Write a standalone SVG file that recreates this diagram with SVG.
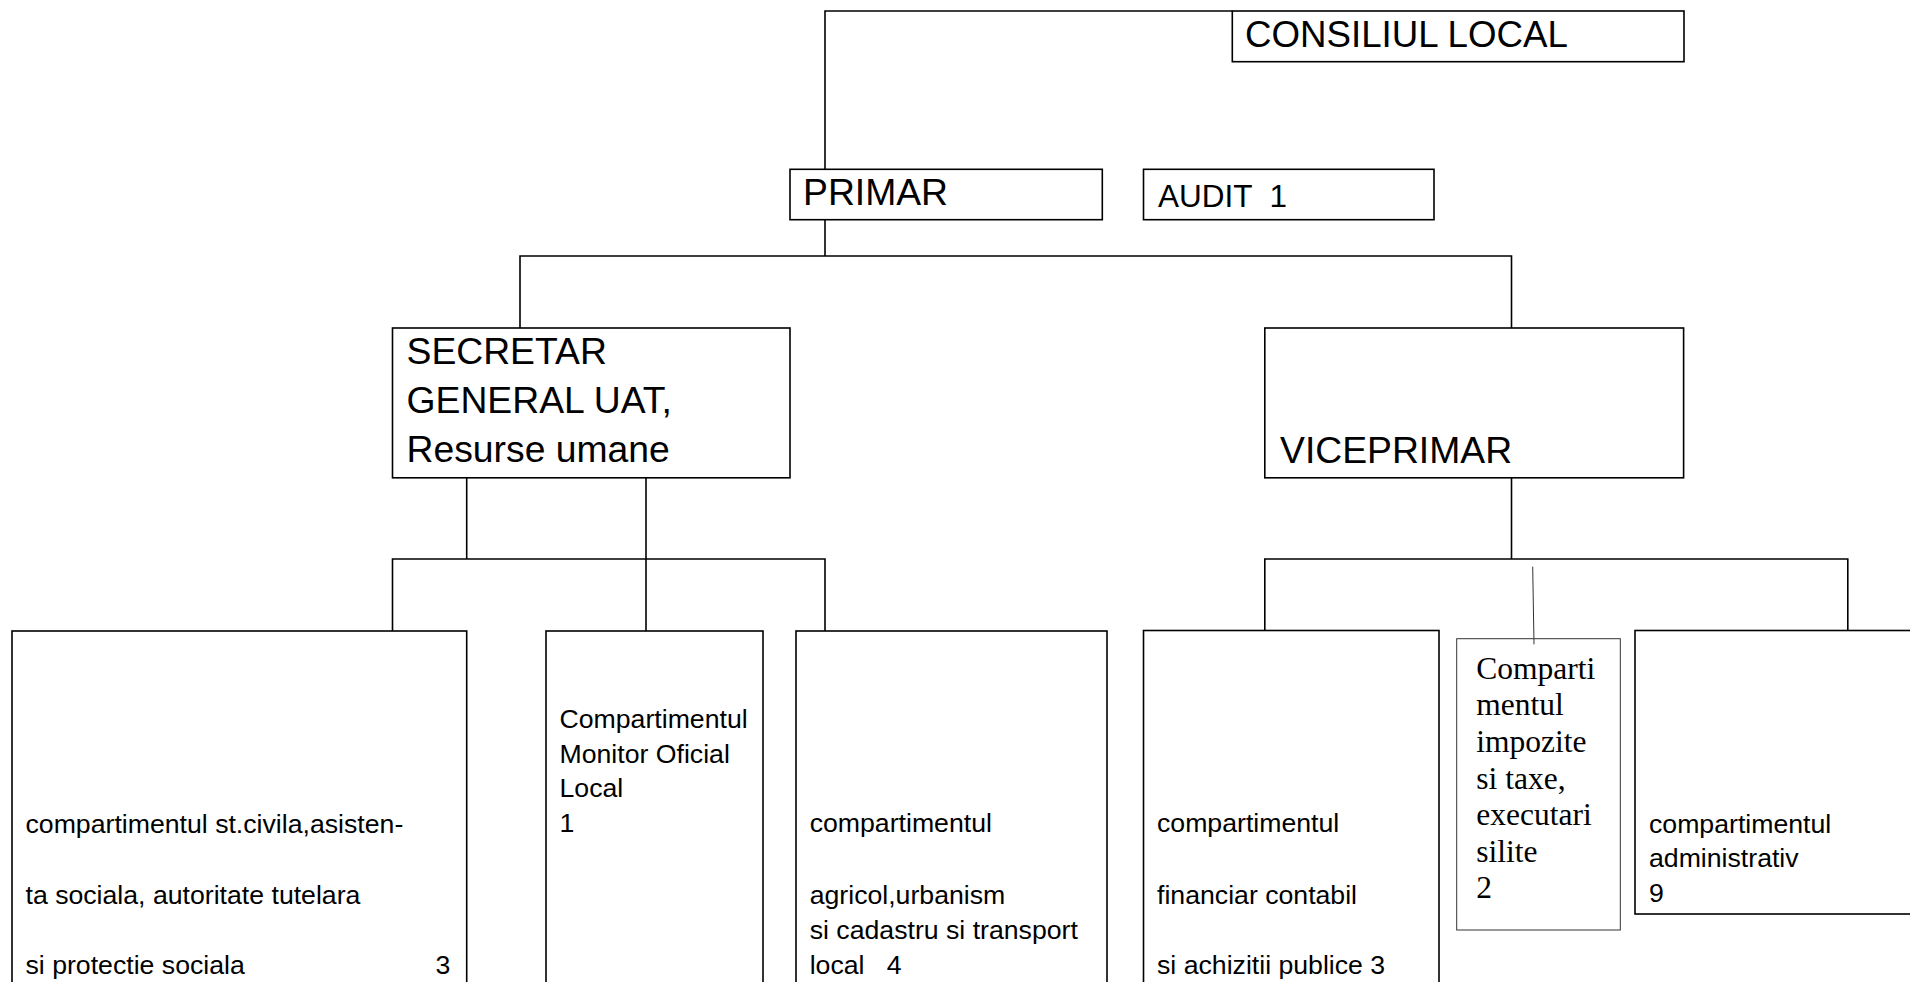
<svg xmlns="http://www.w3.org/2000/svg" width="1910" height="982" viewBox="0 0 1910 982">
<style>
.box{fill:#fff;stroke:#000;stroke-width:1.6}
.thin{fill:#fff;stroke:#333;stroke-width:1}
.con{fill:none;stroke:#000;stroke-width:1.6}
.con2{fill:none;stroke:#333;stroke-width:1}
.big{font-family:"Liberation Sans",Arial,sans-serif;font-size:37.3px;fill:#000}
.mid{font-family:"Liberation Sans",Arial,sans-serif;font-size:31.5px;fill:#000}
.sm{font-family:"Liberation Sans",Arial,sans-serif;font-size:26.67px;fill:#000}
.ser{font-family:"Liberation Serif","Times New Roman",serif;font-size:31.5px;fill:#000}
</style>
<rect width="1910" height="982" fill="#fff"/>
<g id="consiliul">
<rect class="box" x="1232.3" y="11" width="451.7" height="50.7"/>
<text class="big" x="1245" y="46.7" style="font-size:36.7px">CONSILIUL LOCAL</text>
</g>
<g id="primar">
<rect class="box" x="790" y="169.3" width="312.3" height="50.4"/>
<text class="big" x="803" y="205">PRIMAR</text>
</g>
<g id="audit">
<rect class="box" x="1143.5" y="169.3" width="290.5" height="50.4"/>
<text class="mid" x="1158" y="206.7" xml:space="preserve">AUDIT  1</text>
</g>
<g id="secretar">
<rect class="box" x="392.5" y="328" width="397.5" height="149.8"/>
<text class="big" x="406.5" y="363.5">SECRETAR</text>
<text class="big" x="406.5" y="412.5">GENERAL UAT,</text>
<text class="big" x="406.5" y="461.5">Resurse umane</text>
</g>
<g id="viceprimar">
<rect class="box" x="1264.8" y="328" width="418.8" height="149.8"/>
<text class="big" x="1280" y="462.5">VICEPRIMAR</text>
</g>
<g id="stcivila">
<rect class="box" x="12" y="631" width="454.7" height="370"/>
<text class="sm" x="25.5" y="832.7">compartimentul st.civila,asisten-</text>
<text class="sm" x="25.5" y="904">ta sociala, autoritate tutelara</text>
<text class="sm" x="25.5" y="974">si protectie sociala</text>
<text class="sm" x="435.5" y="974">3</text>
</g>
<g id="monitor">
<rect class="box" x="546" y="631" width="217" height="370"/>
<text class="sm" x="559.5" y="727.7">Compartimentul</text>
<text class="sm" x="559.5" y="762.7">Monitor Oficial</text>
<text class="sm" x="559.5" y="797.3">Local</text>
<text class="sm" x="559.5" y="832.3">1</text>
</g>
<g id="agricol">
<rect class="box" x="796" y="631" width="311" height="370"/>
<text class="sm" x="809.7" y="832.3">compartimentul</text>
<text class="sm" x="809.7" y="904">agricol,urbanism</text>
<text class="sm" x="809.7" y="939">si cadastru si transport</text>
<text class="sm" x="809.7" y="974" xml:space="preserve">local   4</text>
</g>
<g id="financiar">
<rect class="box" x="1143.5" y="630.5" width="295.5" height="370"/>
<text class="sm" x="1157" y="832.3">compartimentul</text>
<text class="sm" x="1157" y="904">financiar contabil</text>
<text class="sm" x="1157" y="974">si achizitii publice 3</text>
</g>
<g id="impozite">
<rect class="thin" x="1456.7" y="638.7" width="163.6" height="291.3"/>
<text class="ser" x="1476.3" y="678.5">Comparti</text>
<text class="ser" x="1476.3" y="715.2">mentul</text>
<text class="ser" x="1476.3" y="751.8">impozite</text>
<text class="ser" x="1476.3" y="788.5">si taxe,</text>
<text class="ser" x="1476.3" y="825.1">executari</text>
<text class="ser" x="1476.3" y="861.8">silite</text>
<text class="ser" x="1476.3" y="898.4">2</text>
</g>
<g id="administrativ">
<rect class="box" x="1635" y="630.5" width="290" height="283.5"/>
<text class="sm" x="1649" y="832.5">compartimentul</text>
<text class="sm" x="1649" y="867">administrativ</text>
<text class="sm" x="1649" y="902">9</text>
</g>
<g id="connectors">
<polyline class="con" points="825,169.3 825,11 1232.3,11"/>
<line class="con" x1="825" y1="219.7" x2="825" y2="256"/>
<polyline class="con" points="520,328 520,256 1511.5,256 1511.5,328"/>
<line class="con" x1="466.7" y1="477.8" x2="466.7" y2="559"/>
<line class="con" x1="646" y1="477.8" x2="646" y2="631"/>
<polyline class="con" points="392.5,631 392.5,559 825,559 825,631"/>
<line class="con" x1="1511.5" y1="477.8" x2="1511.5" y2="559"/>
<polyline class="con" points="1264.8,630.5 1264.8,559 1847.8,559 1847.8,630.5"/>
<line class="con2" x1="1532.7" y1="566.7" x2="1534" y2="644.3"/>
</g>
</svg>
